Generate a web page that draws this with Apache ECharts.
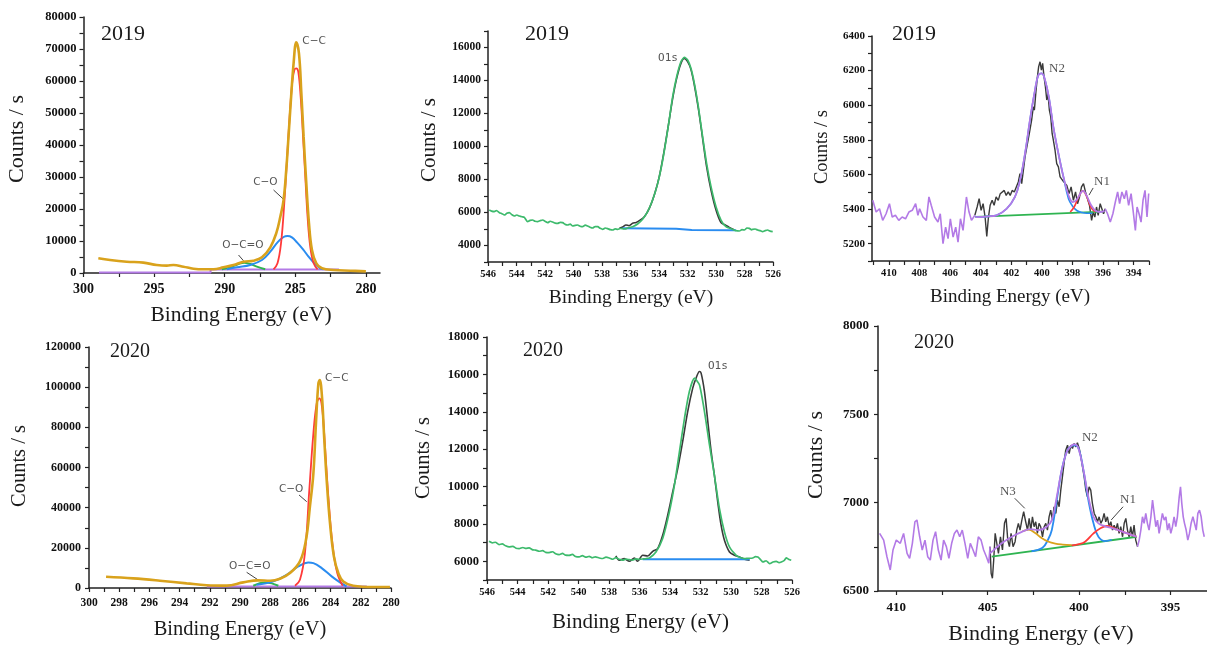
<!DOCTYPE html>
<html>
<head>
<meta charset="utf-8">
<script src="https://cdn.jsdelivr.net/npm/echarts@6/dist/echarts.min.js"></script>
<style>
  html, body { margin: 0; padding: 0; background: #fff; }
  #chart { width: 1207px; height: 647px; }
</style>
</head>
<body>
<div id="chart"></div>
<script>
// ---- C 1s, 2019 (binding energy eV, counts/s)
const c19Envelope = [[298.95,4590],[298.12,4060],[296.94,3540],[295.76,3230],[294.81,2500],[294.10,2290],[293.63,2500],[292.92,1980],[292.21,1350],[291.50,1150],[290.79,1150],[290.09,1770],[289.38,2500],[288.67,3540],[287.96,3850],[287.36,4900],[286.77,8020],[286.35,12400],[286.06,17600],[285.83,22800],[285.64,32200],[285.48,42600],[285.31,54060],[285.12,65530],[284.93,72100],[284.74,68650],[284.57,56150],[284.41,42600],[284.22,28030],[284.03,15530],[283.82,7190],[283.51,3030],[283.11,1470],[282.28,940],[281.10,720],[280.00,500]];
const c19CC = [[286.54,1150],[286.26,3030],[286.01,9280],[285.78,21780],[285.59,35310],[285.40,48840],[285.21,59780],[285.05,63650],[284.93,63960],[284.79,62900],[284.62,55090],[284.45,42590],[284.29,30090],[284.13,17590],[283.94,8220],[283.70,3030],[283.42,1150]];
const c19CO = [[289.84,1150],[289.13,1770],[288.19,2500],[287.36,4060],[286.77,6660],[286.26,9590],[285.83,11250],[285.55,11560],[285.24,11150],[284.88,9590],[284.45,7400],[284.06,5100],[283.65,3030],[283.23,1470],[282.99,1150]];
const c19OCO = [[290.20,1150],[289.61,1770],[289.02,2810],[288.62,3230],[288.19,2810],[287.72,1980],[287.13,1150]];
const c19Background = [[298.9,150],[291.0,150],[291.0,1100],[281.9,1100]];

// ---- O 1s, 2019
const o19Fit = [[545.91,6151],[545.75,6080],[545.56,6050],[545.40,6120],[545.20,5989],[545.02,5930],[544.85,5848],[544.68,5950],[544.50,5989],[544.32,5860],[544.15,5787],[543.98,5850],[543.80,5787],[543.62,5740],[543.45,5707],[543.22,5444],[543.05,5520],[542.87,5545],[542.70,5470],[542.52,5444],[542.35,5500],[542.16,5545],[541.98,5460],[541.81,5384],[541.64,5470],[541.46,5424],[541.28,5360],[541.11,5343],[540.93,5400],[540.76,5384],[540.58,5280],[540.41,5242],[540.23,5300],[540.06,5181],[539.88,5220],[539.71,5242],[539.54,5170],[539.36,5141],[539.18,5230],[539.01,5181],[538.84,5110],[538.66,5060],[538.48,5150],[538.30,5141],[538.12,5040],[537.95,4979],[537.78,5060],[537.60,5020],[537.42,4960],[537.25,4939],[537.08,5010],[536.90,4979],[536.72,5030],[536.55,5020],[536.38,5000],[536.20,5060],[535.85,5141],[535.50,5303],[535.15,5586],[534.80,6050],[534.45,6757],[534.09,7767],[533.74,9181],[533.39,11000],[533.04,13019],[532.76,14231],[532.46,15140],[532.22,15403],[531.99,15241],[531.76,14736],[531.52,13827],[531.24,12413],[530.94,10595],[530.66,8979],[530.35,7565],[530.00,6353],[529.65,5545],[529.30,5141],[528.83,4979],[528.60,4900],[528.36,4878],[528.18,4960],[528.01,4939],[527.83,5060],[527.66,5040],[527.50,4950],[527.43,4979],[527.25,5000],[527.08,4939],[526.90,4900],[526.73,4838],[526.55,4900],[526.38,4939],[526.20,4870],[526.02,4838]];
const o19Raw = [[536.78,5040],[536.55,5120],[536.32,5242],[536.10,5200],[535.85,5343],[535.60,5400],[535.38,5505],[535.03,5747],[534.68,6252],[534.33,7060],[533.98,8171],[533.63,9787],[533.32,11403],[533.04,12918],[532.76,14130],[532.46,15039],[532.22,15342],[531.99,15140],[531.76,14675],[531.52,13726],[531.24,12312],[530.94,10494],[530.66,8777],[530.35,7363],[530.00,6151],[529.65,5384],[529.35,5242],[529.07,5100],[528.71,4939]];
const o19Background = [[536.55,5040],[532.80,5020],[531.70,4940],[528.60,4930]];

// ---- N 1s, 2019
const n19OuterLeft = [[411.05,5451],[410.83,5383],[410.61,5402],[410.40,5335],[410.18,5373],[409.96,5431],[409.78,5354],[409.57,5364],[409.35,5335],[409.13,5354],[408.91,5344],[408.69,5383],[408.47,5393],[408.25,5431],[408.10,5364],[407.99,5402],[407.77,5354],[407.55,5335],[407.38,5470],[407.23,5422],[407.01,5354],[406.79,5325],[406.64,5373],[406.46,5200],[406.29,5296],[406.13,5229],[405.98,5344],[405.80,5238],[405.63,5296],[405.48,5209],[405.32,5344],[405.15,5277],[404.93,5470],[404.76,5383],[404.60,5335],[404.38,5364]];
const n19Raw = [[404.38,5364],[404.23,5412],[404.10,5460],[403.97,5393],[403.84,5431],[403.71,5354],[403.60,5242],[403.49,5354],[403.38,5422],[403.25,5451],[403.12,5422],[402.99,5470],[402.85,5450],[402.72,5489],[402.59,5479],[402.46,5508],[402.33,5479],[402.20,5499],[402.07,5479],[401.94,5508],[401.80,5499],[401.67,5528],[401.54,5557],[401.43,5605],[401.32,5547],[401.21,5624],[401.10,5701],[401.00,5702],[400.82,5837],[400.67,5914],[400.56,5991],[400.49,5972],[400.38,6087],[400.29,6165],[400.21,6223],[400.12,6251],[400.03,6203],[399.95,6242],[399.86,6165],[399.77,6107],[399.68,6030],[399.60,6068],[399.51,5972],[399.42,5933],[399.33,5837],[399.25,5798],[399.14,5740],[399.03,5663],[398.92,5644],[398.81,5586],[398.60,5560],[398.37,5537],[398.22,5489],[398.09,5528],[397.94,5450],[397.80,5499],[397.67,5431],[397.54,5470],[397.41,5528],[397.28,5547],[397.15,5499],[397.02,5460],[396.89,5422],[396.75,5335],[396.65,5383],[396.54,5354],[396.43,5412],[396.32,5364],[396.19,5431],[396.08,5402],[395.97,5373],[395.86,5402]];
const n19Envelope = [[404.34,5354],[403.50,5358],[402.96,5364],[402.30,5402],[401.76,5470],[401.43,5566],[401.10,5721],[400.78,5914],[400.45,6087],[400.23,6174],[400.01,6184],[399.79,6145],[399.51,6030],[399.25,5875],[398.92,5721],[398.59,5586],[398.26,5480],[397.98,5440],[397.72,5455],[397.45,5495],[397.30,5505],[397.06,5475],[396.80,5425],[396.52,5392],[396.20,5383],[395.90,5390]];
const n19N2 = [[404.34,5354],[403.50,5358],[402.96,5364],[402.30,5402],[401.76,5470],[401.43,5566],[401.10,5721],[400.78,5914],[400.45,6087],[400.23,6174],[400.01,6184],[399.79,6145],[399.51,6030],[399.25,5875],[398.92,5721],[398.59,5586],[398.26,5460],[397.98,5415],[397.72,5392],[397.39,5380],[397.06,5376],[396.70,5376]];
const n19N1 = [[398.15,5383],[397.89,5412],[397.60,5470],[397.32,5505],[397.06,5470],[396.80,5412],[396.52,5383]];
const n19Background = [[404.34,5355],[396.00,5385]];
const n19OuterRight = [[395.86,5402],[395.71,5373],[395.53,5325],[395.36,5373],[395.20,5441],[395.05,5499],[394.92,5431],[394.77,5499],[394.61,5460],[394.48,5508],[394.33,5422],[394.17,5489],[394.04,5393],[393.89,5277],[393.78,5412],[393.65,5373],[393.52,5325],[393.39,5451],[393.26,5508],[393.13,5354],[393.02,5490]];

// ---- C 1s, 2020
const c20Envelope = [[298.87,5630],[297.07,4810],[295.30,3650],[293.53,2320],[292.21,1400],[290.88,1200],[289.78,2790],[288.79,3790],[288.01,3620],[287.35,4610],[286.69,7430],[286.03,13230],[285.63,24000],[285.37,40550],[285.14,57110],[284.97,81940],[284.81,101820],[284.72,103500],[284.57,95200],[284.44,76980],[284.26,53800],[284.04,32270],[283.78,15710],[283.49,7430],[283.16,3290],[282.50,1130],[281.17,500],[280.07,500]];
const c20CC = [[286.36,1130],[286.03,4120],[285.70,17370],[285.41,48830],[285.14,77000],[284.92,91890],[284.75,94370],[284.57,90230],[284.37,70360],[284.15,45520],[283.86,20680],[283.56,7430],[283.20,1130]];
const c20CO = [[288.90,1630],[287.79,3290],[286.91,6600],[286.14,10740],[285.48,12730],[285.14,12400],[284.59,9920],[283.93,5790],[283.38,2800],[282.94,800]];
const c20OCO = [[289.12,1130],[288.35,2790],[287.90,2300],[287.46,1130]];
const c20Background = [[292.2,700],[281.6,700]];

// ---- O 1s, 2020
const o20Fit = [[545.87,7073],[545.65,6990],[545.45,7020],[545.21,6894],[545.00,6930],[544.78,6830],[544.55,6770],[544.30,6800],[544.10,6700],[543.89,6680],[543.65,6740],[543.45,6690],[543.24,6716],[543.00,6610],[542.80,6600],[542.58,6537],[542.35,6570],[542.15,6480],[541.92,6465],[541.70,6510],[541.50,6400],[541.27,6358],[541.05,6420],[540.85,6330],[540.61,6322],[540.40,6370],[540.20,6260],[539.95,6233],[539.75,6300],[539.50,6220],[539.30,6268],[539.10,6190],[538.90,6240],[538.64,6179],[538.40,6150],[538.20,6220],[537.98,6179],[537.75,6110],[537.55,6200],[537.33,6107],[537.10,6060],[536.90,6120],[536.67,6090],[536.45,6060],[536.25,6130],[536.01,6107],[535.75,6130],[535.55,6150],[535.35,6179],[534.92,6501],[534.48,7216],[534.04,8647],[533.71,10077],[533.38,11865],[533.05,13653],[532.73,15083],[532.40,15799],[532.07,15441],[531.74,14011],[531.41,12223],[531.09,10613],[530.76,8825],[530.43,7574],[530.10,6769],[529.66,6322],[529.40,6200],[529.11,6143],[528.90,6160],[528.57,6179],[528.40,6250],[528.24,6233],[528.05,6080],[527.91,5964],[527.70,6030],[527.47,5875],[527.25,5960],[527.03,6000],[526.85,5930],[526.70,5964],[526.50,6050],[526.38,6179],[526.20,6100],[526.05,6054]];
const o20Raw = [[537.55,6286],[537.33,6054],[537.00,6143],[536.67,6000],[536.34,6179],[536.12,6000],[535.79,6322],[535.46,6286],[535.13,6537],[534.81,6680],[534.48,7395],[534.15,8468],[533.82,9720],[533.49,10971],[533.17,12401],[532.84,14011],[532.51,15262],[532.29,15799],[532.07,16156],[531.96,16067],[531.74,15083],[531.52,13474],[531.30,11865],[531.09,10613],[530.87,9183],[530.65,7931],[530.43,7127],[530.10,6501],[529.77,6322],[529.44,6233],[529.11,6107],[528.78,6054]];
const o20Background = [[535.79,6110],[528.78,6110]];

// ---- N 1s, 2020
const n20OuterLeft = [[410.91,6826],[410.69,6788],[410.51,6694],[410.33,6619],[410.18,6732],[410.00,6788],[409.78,6770],[409.60,6826],[409.41,6713],[409.27,6685],[409.12,6770],[408.98,6892],[408.87,6902],[408.72,6807],[408.58,6732],[408.43,6788],[408.28,6694],[408.14,6675],[407.99,6788],[407.85,6836],[407.70,6732],[407.55,6675],[407.41,6788],[407.26,6751],[407.12,6685],[406.97,6770],[406.82,6826],[406.68,6845],[406.53,6807],[406.39,6845],[406.24,6770],[406.09,6685],[405.95,6770],[405.80,6732],[405.66,6694],[405.51,6807],[405.36,6788],[405.22,6732],[405.07,6694],[404.94,6657],[404.87,6751]];
const n20Raw = [[404.87,6751],[404.81,6600],[404.74,6572],[404.67,6675],[404.59,6826],[404.50,6770],[404.41,6713],[404.30,6807],[404.19,6732],[404.08,6883],[403.99,6911],[403.90,6788],[403.81,6751],[403.72,6826],[403.61,6751],[403.50,6779],[403.41,6845],[403.32,6883],[403.23,6845],[403.13,6901],[403.03,6949],[402.92,6892],[402.82,6845],[402.73,6911],[402.64,6845],[402.55,6920],[402.46,6864],[402.37,6892],[402.28,6826],[402.19,6883],[402.10,6864],[402.00,6807],[401.91,6864],[401.82,6883],[401.73,6845],[401.64,6920],[401.55,6958],[401.46,6901],[401.37,6977],[401.27,6939],[401.18,7014],[401.09,6977],[401.00,7071],[400.91,7146],[400.82,7222],[400.73,7297],[400.63,7325],[400.54,7278],[400.45,7325],[400.36,7307],[400.27,7335],[400.18,7316],[400.09,7339],[399.99,7307],[399.90,7260],[399.81,7203],[399.72,7146],[399.63,7071],[399.54,7033],[399.45,7090],[399.36,7071],[399.27,6996],[399.17,6939],[399.08,6920],[398.99,6892],[398.90,6920],[398.81,6883],[398.72,6901],[398.63,6939],[398.54,6892],[398.45,6920],[398.35,6864],[398.26,6892],[398.17,6845],[398.08,6873],[397.99,6845],[397.90,6883],[397.81,6826],[397.72,6864],[397.62,6807],[397.53,6883],[397.44,6911],[397.35,6845],[397.26,6807],[397.17,6864],[397.08,6807],[396.99,6873],[396.90,6788],[396.80,6751]];
const n20Envelope = [[404.87,6713],[404.23,6770],[403.68,6807],[403.13,6835],[402.68,6850],[402.22,6845],[401.77,6864],[401.49,6901],[401.22,7033],[400.95,7184],[400.67,7288],[400.40,7325],[400.22,7330],[400.03,7307],[399.76,7184],[399.49,7033],[399.21,6920],[398.94,6883],[398.57,6866],[398.21,6856],[397.85,6845],[397.48,6830],[397.11,6816],[396.84,6807]];
const n20N2 = [[402.60,6725],[402.00,6745],[401.70,6790],[401.49,6845],[401.22,7014],[400.95,7184],[400.67,7288],[400.40,7322],[400.22,7325],[400.00,7300],[399.76,7184],[399.49,7014],[399.21,6883],[398.94,6807],[398.57,6782],[398.21,6790]];
const n20N3 = [[403.10,6838],[402.75,6847],[402.40,6828],[402.05,6800],[401.70,6780],[401.30,6768],[400.90,6763],[400.40,6760]];
const n20N1 = [[400.40,6758],[400.00,6765],[399.67,6779],[399.21,6826],[398.85,6854],[398.48,6868],[398.21,6862],[397.85,6845],[397.48,6830],[397.11,6816],[396.84,6807]];
const n20Background = [[404.78,6694],[396.84,6807]];
const n20OuterRight = [[396.80,6751],[396.71,6788],[396.62,6845],[396.53,6920],[396.44,6883],[396.35,6939],[396.26,6883],[396.17,6845],[396.07,6920],[395.98,7014],[395.89,6939],[395.80,6864],[395.71,6901],[395.62,6826],[395.53,6883],[395.44,6939],[395.34,6901],[395.25,6920],[395.16,6845],[395.07,6883],[394.98,6826],[394.89,6864],[394.80,6920],[394.71,6864],[394.62,6920],[394.52,7033],[394.45,7090],[394.38,6996],[394.30,6920],[394.23,6883],[394.14,6845],[394.05,6788],[393.96,6826],[393.87,6883],[393.77,6920],[393.68,6883],[393.59,6845],[393.50,6939],[393.41,6958],[393.32,6920],[393.23,6845],[393.15,6807]];

// ---- axis ticks and labels
const c19XTicks = [280,282.5,285,287.5,290,292.5,295,297.5,300];
const c19XLabels = [280,285,290,295,300];
const c19YTicks = [0,5000,10000,15000,20000,25000,30000,35000,40000,45000,50000,55000,60000,65000,70000,75000,80000];
const c19YLabels = [0,10000,20000,30000,40000,50000,60000,70000,80000];
const o19XTicks = [526,527,528,529,530,531,532,533,534,535,536,537,538,539,540,541,542,543,544,545,546];
const o19XLabels = [526,528,530,532,534,536,538,540,542,544,546];
const o19YTicks = [3000,4000,5000,6000,7000,8000,9000,10000,11000,12000,13000,14000,15000,16000,17000];
const o19YLabels = [4000,6000,8000,10000,12000,14000,16000];
const n19XTicks = [393,394,395,396,397,398,399,400,401,402,403,404,405,406,407,408,409,410,411];
const n19XLabels = [394,396,398,400,402,404,406,408,410];
const n19YTicks = [5100,5200,5300,5400,5500,5600,5700,5800,5900,6000,6100,6200,6300,6400];
const n19YLabels = [5200,5400,5600,5800,6000,6200,6400];
const c20XTicks = [280,281,282,283,284,285,286,287,288,289,290,291,292,293,294,295,296,297,298,299,300];
const c20XLabels = [280,282,284,286,288,290,292,294,296,298,300];
const c20YTicks = [0,10000,20000,30000,40000,50000,60000,70000,80000,90000,100000,110000,120000];
const c20YLabels = [0,20000,40000,60000,80000,100000,120000];
const o20XTicks = o19XTicks;
const o20XLabels = o19XLabels;
const o20YTicks = [5000,6000,7000,8000,9000,10000,11000,12000,13000,14000,15000,16000,17000,18000];
const o20YLabels = [6000,8000,10000,12000,14000,16000,18000];
const n20XTicks = [395,397.5,400,402.5,405,407.5,410];
const n20XLabels = [395,400,405,410];
const n20YTicks = [6500,6750,7000,7250,7500,7750,8000];
const n20YLabels = [6500,7000,7500,8000];

const SERIF = "'Liberation Serif', 'Times New Roman', serif";
const GOLD = '#d9a21c', RED = '#ff3a3a', BLUE = '#2a8cf0', GREEN = '#2fb451',
      OGREEN = '#3dba6c', PURPLE = '#b37ae6', DARK = '#3a3a3a';

// panel layout: grid box, axis ranges and label sizes
const panels = [
  { grid: {left: 83.5, top: 17, width: 296.5, height: 256},
    x: {min: 279, max: 300, ticks: c19XTicks, labels: c19XLabels, size: 14, margin: 9},
    y: {min: 0, max: 80000, ticks: c19YTicks, labels: c19YLabels, size: 12.5, margin: 7} },
  { grid: {left: 488, top: 31, width: 285, height: 231},
    x: {min: 526, max: 546, ticks: o19XTicks, labels: o19XLabels, size: 10.5, margin: 7},
    y: {min: 3000, max: 17000, ticks: o19YTicks, labels: o19YLabels, size: 11.5, margin: 7} },
  { grid: {left: 872, top: 36, width: 277, height: 225},
    x: {min: 393, max: 411.1, ticks: n19XTicks, labels: n19XLabels, size: 10.5, margin: 7},
    y: {min: 5100, max: 6400, ticks: n19YTicks, labels: n19YLabels, size: 11, margin: 7} },
  { grid: {left: 89, top: 347, width: 302, height: 241},
    x: {min: 280, max: 300, ticks: c20XTicks, labels: c20XLabels, size: 11.5, margin: 9},
    y: {min: 0, max: 120000, ticks: c20YTicks, labels: c20YLabels, size: 12, margin: 8} },
  { grid: {left: 487, top: 337, width: 305, height: 243},
    x: {min: 526, max: 546, ticks: o20XTicks, labels: o20XLabels, size: 10.5, margin: 7},
    y: {min: 5000, max: 18000, ticks: o20YTicks, labels: o20YLabels, size: 12.5, margin: 8} },
  { grid: {left: 878, top: 326, width: 329, height: 265},
    x: {min: 393, max: 411, ticks: n20XTicks, labels: n20XLabels, size: 13, margin: 10},
    y: {min: 6500, max: 8000, ticks: n20YTicks, labels: n20YLabels, size: 13, margin: 9} }
];

function axis(gridIndex, a, inverse) {
  return {
    type: 'value', gridIndex: gridIndex, min: a.min, max: a.max, inverse: inverse,
    axisLine: {show: true, onZero: false, lineStyle: {color: '#222', width: 1.5}},
    axisTick: {show: true, length: 4, customValues: a.ticks, lineStyle: {color: '#222', width: 1.2}},
    axisLabel: {customValues: a.labels, formatter: v => String(v), fontFamily: SERIF, fontWeight: 'bold',
                fontSize: a.size, color: '#111', margin: a.margin, hideOverlap: false},
    splitLine: {show: false}
  };
}

function curve(i, data, color, width, smooth) {
  return {
    type: 'line', xAxisIndex: i, yAxisIndex: i, data: data,
    showSymbol: false, symbol: 'none', smooth: smooth || false, silent: true,
    lineStyle: {color: color, width: width}
  };
}

const series = [
  // C 1s 2019
  curve(0, c19Background, PURPLE, 2),
  curve(0, c19OCO, GREEN, 2, 0.4),
  curve(0, c19CO, BLUE, 2, 0.4),
  curve(0, c19CC, RED, 1.8, 0.4),
  curve(0, c19Envelope, GOLD, 2.6, 0.4),
  // O 1s 2019
  curve(1, o19Raw, DARK, 1.6, 0.3),
  curve(1, o19Background, BLUE, 2),
  curve(1, o19Fit, OGREEN, 1.7, 0.2),
  // N 1s 2019
  curve(2, n19Raw, DARK, 1.4),
  curve(2, n19Background, GREEN, 1.8),
  curve(2, n19N2, BLUE, 1.6, 0.4),
  curve(2, n19N1, RED, 1.6, 0.4),
  curve(2, n19Envelope, PURPLE, 1.8, 0.4),
  curve(2, n19OuterLeft, PURPLE, 1.6),
  curve(2, n19OuterRight, PURPLE, 1.6),
  // C 1s 2020
  curve(3, c20Background, PURPLE, 2),
  curve(3, c20OCO, GREEN, 2, 0.4),
  curve(3, c20CO, BLUE, 2, 0.4),
  curve(3, c20CC, RED, 1.8, 0.4),
  curve(3, c20Envelope, GOLD, 2.6, 0.4),
  // O 1s 2020
  curve(4, o20Raw, DARK, 1.6, 0.3),
  curve(4, o20Background, BLUE, 2),
  curve(4, o20Fit, OGREEN, 1.7, 0.2),
  // N 1s 2020
  curve(5, n20Raw, DARK, 1.4),
  curve(5, n20Background, GREEN, 1.8),
  curve(5, n20N2, BLUE, 1.8, 0.4),
  curve(5, n20N3, GOLD, 1.8, 0.4),
  curve(5, n20N1, RED, 1.8, 0.4),
  curve(5, n20Envelope, PURPLE, 1.8, 0.4),
  curve(5, n20OuterLeft, PURPLE, 1.6),
  curve(5, n20OuterRight, PURPLE, 1.6)
];

const chart = echarts.init(document.getElementById('chart'), null, {renderer: 'canvas'});
chart.setOption({
  animation: false,
  backgroundColor: '#fff',
  grid: panels.map(p => Object.assign({outerBoundsMode: 'none', containLabel: false}, p.grid)),
  xAxis: panels.map((p, i) => axis(i, p.x, true)),
  yAxis: panels.map((p, i) => axis(i, p.y, false)),
  series: series
});

// peak names, anchored in data coordinates
const notes = [
  {grid: 0, text: 'C\u2212C', at: [284.5, 72500], kind: 'sans'},
  {grid: 0, text: 'C\u2212O', at: [287.98, 28280], kind: 'sans'},
  {grid: 0, text: 'O\u2212C=O', at: [290.18, 8750], kind: 'sans'},
  {grid: 1, text: 'O1s', at: [534.07, 15364], kind: 'mono'},
  {grid: 2, text: 'N2', at: [399.53, 6209], kind: 'serif'},
  {grid: 2, text: 'N1', at: [396.59, 5556], kind: 'serif'},
  {grid: 3, text: 'C\u2212C', at: [284.37, 104560], kind: 'sans'},
  {grid: 3, text: 'C\u2212O', at: [287.42, 49290], kind: 'sans'},
  {grid: 3, text: 'O\u2212C=O', at: [290.73, 10950], kind: 'sans'},
  {grid: 4, text: 'O1s', at: [531.51, 16450], kind: 'mono'},
  {grid: 5, text: 'N3', at: [404.33, 7060], kind: 'serif'},
  {grid: 5, text: 'N2', at: [399.84, 7366], kind: 'serif'},
  {grid: 5, text: 'N1', at: [397.76, 7015], kind: 'serif'}
];
const leaders = [
  {grid: 0, from: [286.54, 25940], to: [285.83, 23030]},
  {grid: 0, from: [289.02, 5625], to: [288.67, 3840]},
  {grid: 2, from: [396.65, 5522], to: [396.92, 5481]},
  {grid: 3, from: [286.09, 46300], to: [285.58, 42970]},
  {grid: 3, from: [289.56, 7820], to: [288.79, 3980]},
  {grid: 5, from: [403.52, 7025], to: [402.97, 6968]},
  {grid: 5, from: [397.59, 6977], to: [398.24, 6902]}
];

const noteFonts = {
  sans: "10.5px 'DejaVu Sans', sans-serif",
  mono: "11px 'DejaVu Sans Mono', monospace",
  serif: "13px " + SERIF
};

function label(text, x, y, size, rotate) {
  return {
    type: 'text', x: x, y: y, rotation: rotate ? Math.PI / 2 : 0,
    style: {text: text, font: size + 'px ' + SERIF, fill: '#1a1a1a',
            align: 'center', verticalAlign: 'middle', textAlign: 'center', textVerticalAlign: 'middle'}
  };
}

const graphics = [
  label('2019', 123, 34, 22), label('2019', 547, 34, 22), label('2019', 914, 34, 22),
  label('2020', 130, 352, 20), label('2020', 543, 351, 20), label('2020', 934, 343, 20),
  label('Counts / s', 17.5, 139, 22, true), label('Counts / s', 429, 140, 21, true),
  label('Counts / s', 822, 147, 18.5, true), label('Counts / s', 19.5, 466, 20.5, true),
  label('Counts / s', 424, 458, 20.5, true), label('Counts / s', 816, 455, 22, true),
  label('Binding Energy (eV)', 241, 315, 21.5), label('Binding Energy (eV)', 631, 298, 19.5),
  label('Binding Energy (eV)', 1010, 297.5, 19), label('Binding Energy (eV)', 240, 630, 20.5),
  label('Binding Energy (eV)', 640.5, 622.5, 21), label('Binding Energy (eV)', 1041, 634, 22)
];

notes.forEach(n => {
  const p = chart.convertToPixel({gridIndex: n.grid}, n.at);
  graphics.push({
    type: 'text', x: p[0], y: p[1],
    style: {text: n.text, font: noteFonts[n.kind], fill: '#555',
            align: 'left', verticalAlign: 'middle', textAlign: 'left', textVerticalAlign: 'middle'}
  });
});
leaders.forEach(l => {
  const a = chart.convertToPixel({gridIndex: l.grid}, l.from);
  const b = chart.convertToPixel({gridIndex: l.grid}, l.to);
  graphics.push({
    type: 'line', shape: {x1: a[0], y1: a[1], x2: b[0], y2: b[1]},
    style: {stroke: '#444', lineWidth: 1}
  });
});

chart.setOption({graphic: {elements: graphics}});
</script>
</body>
</html>
